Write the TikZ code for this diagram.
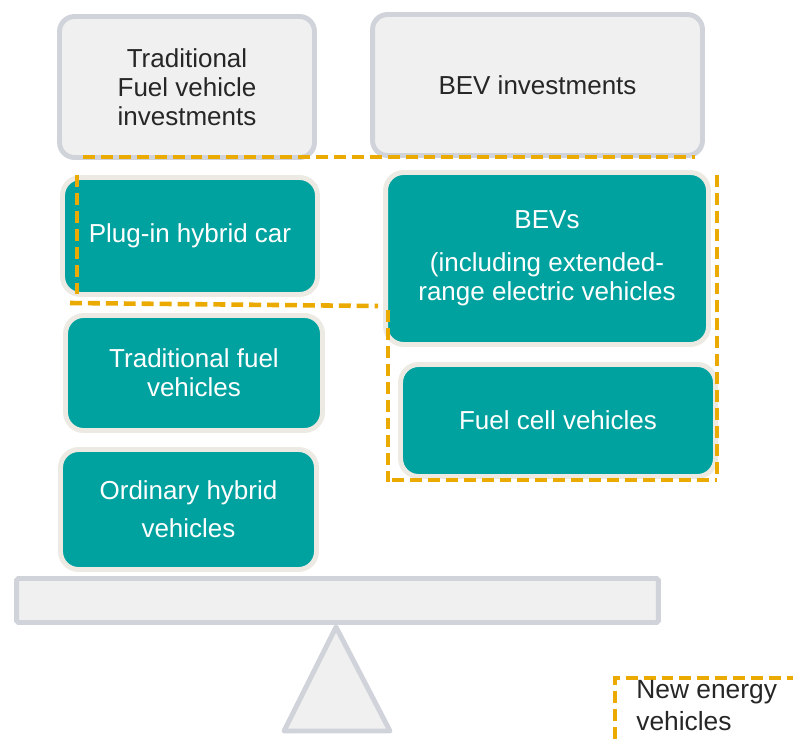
\documentclass[tikz,border=0pt]{standalone}
\usepackage{fontspec}
\setmainfont{Liberation Sans}
\usepackage{tikz}
\usetikzlibrary{positioning}
\usetikzlibrary{calc}
\definecolor{teal}{RGB}{0,162,159}
\definecolor{rim}{RGB}{236,234,226}
\definecolor{lightgrey}{RGB}{240,240,240}
\definecolor{edgegrey}{RGB}{208,211,218}
\definecolor{nevorange}{RGB}{234,170,0}
\tikzset{
	invest/.style={draw=edgegrey, fill=lightgrey, line width=2.8pt, rounded corners=0.3cm, align=center, text=black!85, font=\fontsize{14.8}{16.5}\selectfont},
	vehicle/.style={draw=rim, fill=teal, line width=2.8pt, rounded corners=0.36cm, align=center, text=white, font=\fontsize{14.8}{16.5}\selectfont},
	nev/.style={draw=nevorange, line width=2.6pt, dash pattern=on 6.8pt off 3.4pt}
}

\begin{document}
\begin{tikzpicture}[x=0.02cm, y=-0.02cm]
	\useasboundingbox (0,0) rectangle (793,739);
	\node[invest, minimum width=5.1cm, minimum height=2.82cm] (tradinv) at (187,87) {Traditional\\Fuel vehicle\\investments};
	\node[invest, minimum width=6.6cm, minimum height=2.82cm] (bevinv) at (537.5,85) {BEV investments};
	\node[vehicle, minimum width=5.1cm, minimum height=2.34cm] (plugin) at (190,236) {Plug-in hybrid car};
	\node[vehicle, minimum width=5.14cm, minimum height=2.3cm] (tradfuel) at (194,373) {Traditional fuel\\vehicles};
	\node[vehicle, minimum width=5.12cm, minimum height=2.4cm] (hybrid) at (188.5,509.5) {Ordinary hybrid\\[5pt]vehicles};
	\node[vehicle, minimum width=6.46cm, minimum height=3.44cm] (bev) at (547,258.5) {BEVs\\[8pt](including extended-\\range electric vehicles};
	\node[vehicle, minimum width=6.3cm, minimum height=2.24cm] (fuelcell) at (558,420.5) {Fuel cell vehicles};
	\node[draw=edgegrey, fill=lightgrey, line width=2.8pt, rounded corners=1pt, minimum width=12.84cm, minimum height=0.88cm] (beam) at (337.5,600.5) {};
	\draw[draw=edgegrey, fill=lightgrey, line width=2.8pt, line join=round] (336,627) -- (390,731) -- (284,731) -- cycle;
	\draw[nev] (83,157) -- (695,157);
	\draw[nev] (77,175) -- (77,295);
	\draw[nev] (70,303) -- (378,306);
	\draw[nev] (388,310) -- (388,482);
	\draw[nev] (392,480) -- (717,480);
	\draw[nev] (717,175) -- (717,478);
	\draw[nev] (615,739) -- (615,678) -- (793,678);
	\node[anchor=north west, align=left, text=black!85, font=\fontsize{15}{18.5}\selectfont, inner sep=0pt] (legend) at (636,680) {New energy\\vehicles};
\end{tikzpicture}
\end{document}
